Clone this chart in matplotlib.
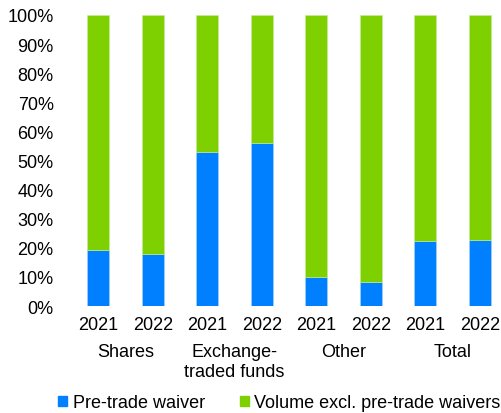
import numpy as np
import matplotlib
matplotlib.use('agg')
import matplotlib.pyplot as plt
from matplotlib.patches import Patch

plt.rcParams['font.family'] = ['Liberation Sans', 'DejaVu Sans']

years = ['2021', '2022', '2021', '2022', '2021', '2022', '2021', '2022']
groups = ['Shares', 'Exchange-\ntraded funds', 'Other', 'Total']
pre_trade = np.array([19.2, 17.9, 53.0, 55.9, 10.1, 8.2, 22.4, 22.8])
volume_excl = 100 - pre_trade

blue = '#007FFF'
green = '#7ED000'
fs = 13

fig = plt.figure(figsize=(5.02, 4.14), dpi=100)
ax = fig.add_axes([71 / 502, 107 / 414, 436 / 502, 291 / 414])

x = np.arange(len(years))
ax.bar(x, pre_trade, width=0.4, color=blue, edgecolor='#a8d4ff', linewidth=0.4)
ax.bar(x, volume_excl, width=0.4, bottom=pre_trade, color=green,
       edgecolor='#c4ec9a', linewidth=0.4)

ax.set_xlim(-0.5, len(years) - 0.5)
ax.set_ylim(0, 100)
ax.set_yticks(np.arange(0, 101, 10))
ax.set_yticklabels([f'{v}%' for v in range(0, 101, 10)])
ax.set_xticks(x)
ax.set_xticklabels(years)
ax.tick_params(axis='both', length=0, labelsize=fs)
ax.tick_params(axis='y', pad=12.5)
ax.tick_params(axis='x', pad=7)
for s in ax.spines.values():
    s.set_visible(False)

trans = ax.get_xaxis_transform()
for i, g in enumerate(groups):
    ax.text(2 * i + 0.5, -0.128, g, transform=trans, ha='center', va='top',
            fontsize=fs, linespacing=1.2)

handles = [Patch(color=blue, label='Pre-trade waiver'),
           Patch(color=green, label='Volume excl. pre-trade waivers')]
fig.legend(handles=handles, loc='center left', bbox_to_anchor=(51 / 502, 1 - 404 / 414),
           ncol=2, frameon=False, fontsize=fs, handlelength=0.5, handleheight=0.5,
           handletextpad=0.3, columnspacing=1.95, borderaxespad=0)

fig.savefig('out.png', dpi=100)
